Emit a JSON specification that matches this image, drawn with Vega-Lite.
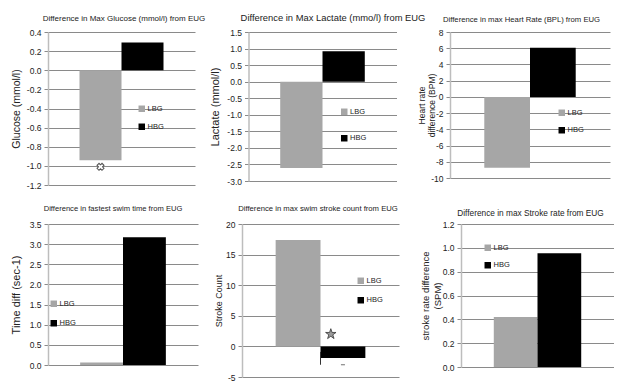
{
  "$schema": "https://vega.github.io/schema/vega-lite/v6.json",
  "padding": {"left": 10, "top": 12, "right": 0, "bottom": 0},
  "spacing": 15,
  "resolve": {"scale": {"color": "independent"}, "legend": {"color": "independent"}},
  "vconcat": [
    {
      "bounds": "flush",
      "spacing": 53.5,
      "resolve": {"scale": {"color": "independent"}, "legend": {"color": "independent"}},
      "hconcat": [
        {
          "width": 147, "height": 153,
          "title": {"text": "Difference in Max Glucose (mmol/l) from EUG", "offset": 5, "dx": 2.5, "frame": "group", "fontSize": 8},
          "data": {"values": [{"group": "LBG", "value": -0.94}, {"group": "HBG", "value": 0.29}]},
          "encoding": {
            "x": {"field": "group", "type": "nominal", "scale": {"domain": ["LBG", "HBG"], "paddingInner": 0, "paddingOuter": 0.75}, "axis": null},
            "y": {"field": "value", "type": "quantitative", "scale": {"domain": [-1.2, 0.4], "nice": false, "zero": false},
              "axis": {"title": "Glucose (mmol/l)", "titleFontSize": 10.5, "titlePadding": 7, "values": [-1.2, -1.0, -0.8, -0.6, -0.4, -0.2, 0, 0.2, 0.4], "labelExpr": "(datum.value < 0 ? '-' : '') + format(abs(datum.value), '.1f')"}}
          },
          "layer": [
            {"mark": {"type": "bar"},
             "encoding": {"color": {"field": "group", "type": "nominal", "scale": {"domain": ["LBG", "HBG"], "range": ["#a6a6a6", "#000000"]},
               "legend": {"orient": "none", "legendX": 90, "legendY": 73, "title": null, "rowPadding": 9}}}},
            {"data": {"values": [{"group": "LBG", "value": -1.01}]},
             "mark": {"type": "point", "shape": "cross", "angle": 45, "size": 50, "filled": true, "fill": "#ffffff", "stroke": "#555555", "strokeWidth": 1, "opacity": 1}}
          ]
        },
        {
          "width": 148, "height": 149,
          "title": {"text": "Difference in  Max Lactate (mmo/l) from EUG", "offset": 5, "dx": 10.5, "frame": "group", "fontSize": 9.4},
          "data": {"values": [{"group": "LBG", "value": -2.61}, {"group": "HBG", "value": 0.92}]},
          "encoding": {
            "x": {"field": "group", "type": "nominal", "scale": {"domain": ["LBG", "HBG"], "paddingInner": 0, "paddingOuter": 0.75}, "axis": null},
            "y": {"field": "value", "type": "quantitative", "scale": {"domain": [-3, 1.5], "nice": false, "zero": false},
              "axis": {"title": "Lactate (mmol/l)", "titleFontSize": 11, "titlePadding": 8, "values": [-3, -2.5, -2, -1.5, -1, -0.5, 0, 0.5, 1, 1.5], "labelExpr": "(datum.value < 0 ? '-' : '') + format(abs(datum.value), '.1f')"}}
          },
          "layer": [
            {"mark": {"type": "bar"},
             "encoding": {"color": {"field": "group", "type": "nominal", "scale": {"domain": ["LBG", "HBG"], "range": ["#a6a6a6", "#000000"]},
               "legend": {"orient": "none", "legendX": 92, "legendY": 76, "title": null, "rowPadding": 17.5}}}}
          ]
        },
        {
          "width": 160, "height": 146,
          "title": {"text": "Difference  in  max Heart Rate (BPL) from  EUG", "offset": 4, "dx": -8.5, "frame": "group", "fontSize": 7.7},
          "data": {"values": [{"group": "LBG", "value": -8.75}, {"group": "HBG", "value": 6.05}]},
          "encoding": {
            "x": {"field": "group", "type": "nominal", "scale": {"domain": ["LBG", "HBG"], "paddingInner": 0, "paddingOuter": 0.75}, "axis": null},
            "y": {"field": "value", "type": "quantitative", "scale": {"domain": [-10, 8], "nice": false, "zero": false},
              "axis": {"title": ["Heart rate", "difference (BPM)"], "titleFontSize": 8.5, "titleLineHeight": 10, "titlePadding": -6, "values": [-10, -8, -6, -4, -2, 0, 2, 4, 6, 8], "labelExpr": "(datum.value < 0 ? '-' : '') + format(abs(datum.value), 'd')"}}
          },
          "layer": [
            {"mark": {"type": "bar"},
             "encoding": {"color": {"field": "group", "type": "nominal", "scale": {"domain": ["LBG", "HBG"], "range": ["#a6a6a6", "#000000"]},
               "legend": {"orient": "none", "legendX": 108, "legendY": 77, "title": null, "rowPadding": 8.5}}}}
          ]
        }
      ]
    },
    {
      "bounds": "flush",
      "spacing": 44,
      "resolve": {"scale": {"color": "independent"}, "legend": {"color": "independent"}},
      "hconcat": [
        {
          "width": 150, "height": 141,
          "title": {"text": "Difference in fastest swim time  from EUG", "offset": 7, "dx": -10, "frame": "group", "fontSize": 7.6},
          "data": {"values": [{"group": "LBG", "value": 0.06}, {"group": "HBG", "value": 3.17}]},
          "encoding": {
            "x": {"field": "group", "type": "nominal", "scale": {"domain": ["LBG", "HBG"], "paddingInner": 0, "paddingOuter": 0.75}, "axis": null},
            "y": {"field": "value", "type": "quantitative", "scale": {"domain": [0, 3.5], "nice": false},
              "axis": {"title": "Time diff (sec-1)", "titleFontSize": 11, "titlePadding": 6.5, "values": [0, 0.5, 1, 1.5, 2, 2.5, 3, 3.5], "labelExpr": "(datum.value < 0 ? '-' : '') + format(abs(datum.value), '.1f')"}}
          },
          "layer": [
            {"mark": {"type": "bar"},
             "encoding": {"color": {"field": "group", "type": "nominal", "scale": {"domain": ["LBG", "HBG"], "range": ["#a6a6a6", "#000000"]},
               "legend": {"orient": "none", "legendX": 2, "legendY": 76, "title": null, "rowPadding": 10.5}}}}
          ]
        },
        {
          "bounds": "flush",
          "spacing": 62,
          "resolve": {"scale": {"color": "independent"}, "legend": {"color": "independent"}},
          "hconcat": [
            {
              "width": 157, "height": 153,
              "title": {"text": "Difference  in  max swim stroke count  from EUG", "offset": 7, "dx": -2.5, "frame": "group", "fontSize": 7.7},
              "data": {"values": [{"group": "LBG", "value": 17.4}, {"group": "HBG", "value": -1.9}]},
              "encoding": {
                "x": {"field": "group", "type": "nominal", "scale": {"domain": ["LBG", "HBG"], "paddingInner": 0, "paddingOuter": 0.75}, "axis": null},
                "y": {"field": "value", "type": "quantitative", "scale": {"domain": [-5, 20], "nice": false, "zero": false},
                  "axis": {"title": "Stroke Count", "titleFontSize": 9, "titlePadding": -1.5, "values": [-5, 0, 5, 10, 15, 20], "labelExpr": "(datum.value < 0 ? '-' : '') + format(abs(datum.value), 'd')"}}
              },
              "layer": [
                {"mark": {"type": "bar"},
                 "encoding": {"color": {"field": "group", "type": "nominal", "scale": {"domain": ["LBG", "HBG"], "range": ["#a6a6a6", "#000000"]},
                   "legend": {"orient": "none", "legendX": 115, "legendY": 53, "title": null, "rowPadding": 10.5}}}},
                {"data": {"values": [{"group": "HBG", "lo": -3.0, "hi": -0.9}]},
                 "mark": {"type": "rule", "color": "#333333", "strokeWidth": 1},
                 "encoding": {"x": {"field": "group", "type": "nominal", "bandPosition": 0}, "y": {"field": "lo", "type": "quantitative"}, "y2": {"field": "hi"}}},
                {"data": {"values": [{"group": "HBG", "value": -3.0}]},
                 "mark": {"type": "tick", "color": "#333333", "size": 4, "thickness": 1, "orient": "horizontal"},
                 "encoding": {"x": {"field": "group", "type": "nominal", "bandPosition": 0}}},
                {"data": {"values": [{"group": "HBG", "value": 2.0}]},
                 "mark": {"type": "point", "shape": "M0,-1L0.2245,-0.309L0.951,-0.309L0.363,0.118L0.588,0.809L0,0.382L-0.588,0.809L-0.363,0.118L-0.951,-0.309L-0.2245,-0.309Z", "size": 120, "filled": true, "fill": "#9a9a9a", "stroke": "#333333", "strokeWidth": 0.8, "opacity": 1},
                 "encoding": {"x": {"field": "group", "type": "nominal", "bandPosition": 0.23}}}
              ]
            },
            {
              "width": 153, "height": 143,
              "title": {"text": "Difference  in  max Stroke rate  from  EUG", "offset": 3, "dx": -7, "frame": "group", "fontSize": 8.3},
              "data": {"values": [{"group": "LBG", "value": 0.42}, {"group": "HBG", "value": 0.955}]},
              "encoding": {
                "x": {"field": "group", "type": "nominal", "scale": {"domain": ["LBG", "HBG"], "paddingInner": 0, "paddingOuter": 0.75}, "axis": null},
                "y": {"field": "value", "type": "quantitative", "scale": {"domain": [0, 1.2], "nice": false},
                  "axis": {"title": ["stroke rate difference", "(SPM)"], "titleFontSize": 9.5, "titleLineHeight": 12, "titlePadding": -1.75, "values": [0, 0.2, 0.4, 0.6, 0.8, 1.0, 1.2], "labelExpr": "(datum.value < 0 ? '-' : '') + format(abs(datum.value), '.1f')"}}
              },
              "layer": [
                {"mark": {"type": "bar"},
                 "encoding": {"color": {"field": "group", "type": "nominal", "scale": {"domain": ["LBG", "HBG"], "range": ["#a6a6a6", "#000000"]},
                   "legend": {"orient": "none", "legendX": 23, "legendY": 20, "title": null, "rowPadding": 8.5}}}}
              ]
            }
          ]
        }
      ]
    }
  ],
  "config": {
    "font": "Liberation Sans Narrow, Liberation Sans, Arial",
    "background": "#ffffff",
    "view": {"stroke": null},
    "axisY": {
      "grid": true, "gridColor": "#8a8a8a", "gridWidth": 1,
      "domainColor": "#bdbdbd", "domainWidth": 1.5,
      "tickColor": "#8a8a8a", "tickSize": 4, "tickWidth": 1,
      "labelPadding": 3, "labelFontSize": 8.5, "labelColor": "#222222", "labelFont": "Liberation Sans Narrow, Liberation Sans, Arial",
      "labelOverlap": false, "labelBound": false,
      "titleFont": "Liberation Sans, Arial", "titleFontWeight": "normal", "titleColor": "#222222",
      "minExtent": 20, "maxExtent": 20
    },
    "title": {"font": "Liberation Sans Narrow, Liberation Sans, Arial", "fontSize": 8, "fontWeight": "normal", "color": "#222222", "anchor": "middle"},
    "legend": {"symbolType": "square", "symbolSize": 42, "symbolStrokeWidth": 0, "labelFontSize": 7.5, "labelFont": "Liberation Sans Narrow, Liberation Sans, Arial", "labelColor": "#222222", "labelOffset": 2, "padding": 0, "offset": 0}
  }
}
